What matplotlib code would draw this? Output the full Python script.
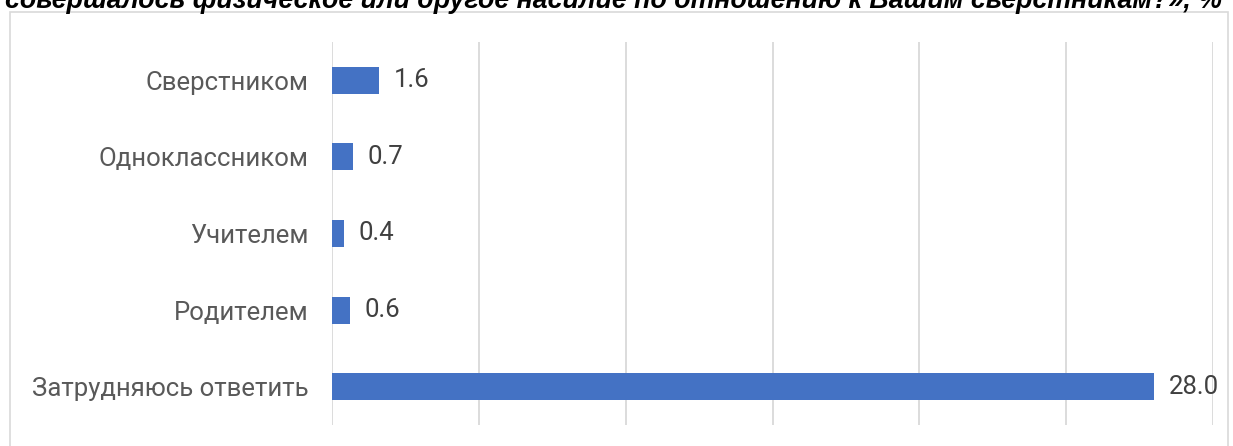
import matplotlib
matplotlib.use("Agg")
import matplotlib.pyplot as plt
from matplotlib.patches import Rectangle

# data, top to bottom as shown
categories = ["Сверстником", "Одноклассником", "Учителем", "Родителем", "Затрудняюсь ответить"]
values = [1.6, 0.7, 0.4, 0.6, 28.0]
title = "совершалось физическое или другое насилие по отношению к Вашим сверстникам?», %"

plt.rcParams['font.family'] = ['Roboto', 'DejaVu Sans']

fig = plt.figure(figsize=(12.33, 4.46), dpi=100)
ax = fig.add_axes([0.2693, 0.047, 0.9838 - 0.2693, 0.859])

# outer chart border
fig.patches.append(Rectangle((10 / 1233, -0.1), 1218 / 1233, 1.1 - 12 / 446,
                             transform=fig.transFigure, fill=False,
                             edgecolor="#d9d9d9", linewidth=1.2))

y = list(range(len(categories)))
bars = ax.barh(y, values, height=0.35, color="#4472c4", zorder=3)
for yi, v in zip(y, values):
    ax.text(v + 0.5, yi, f"{v:.1f}", va="center", ha="left",
            fontsize=18.5, color="#404040")

ax.set_xlim(0, 30)
ax.set_ylim(4.5, -0.5)
ax.set_xticks(range(0, 31, 5))
ax.set_xticklabels([])
ax.set_yticks(y)
ax.set_yticklabels(categories, fontsize=18.5, color="#595959")
ax.tick_params(axis="both", length=0)
ax.tick_params(axis="y", pad=17)
ax.grid(axis="x", color="#d9d9d9", linewidth=1.3, zorder=0)
for s in ax.spines.values():
    s.set_visible(False)

fig.text(5 / 1233, 1 - 8 / 446, title, ha="left", va="baseline",
         fontsize=19.3, fontweight="bold", fontstyle="italic", color="black",
         family=["Liberation Sans", "DejaVu Sans"])

fig.savefig("out.png", dpi=100)
